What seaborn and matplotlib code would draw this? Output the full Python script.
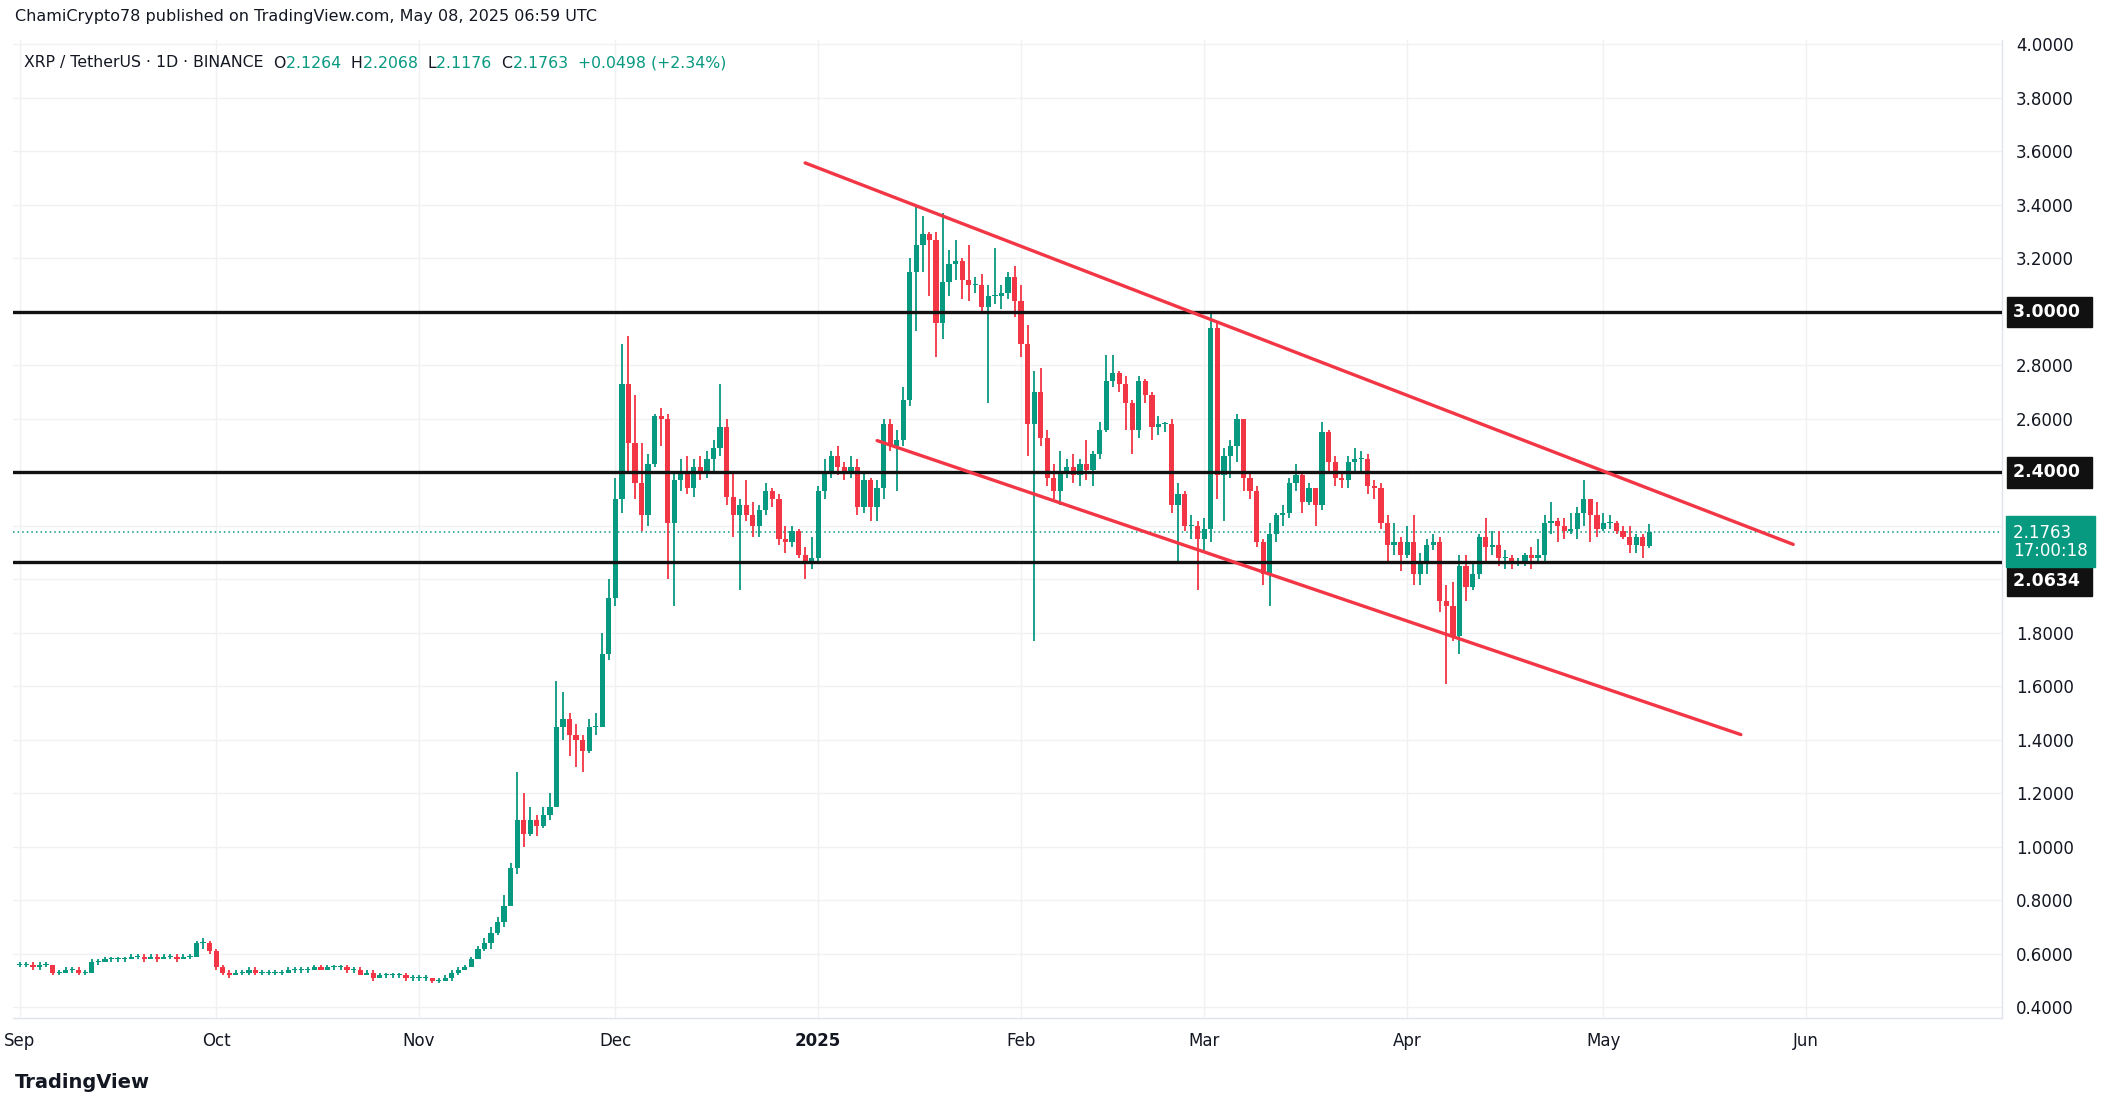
import numpy as np
import pandas as pd
import matplotlib
matplotlib.use("Agg")
import matplotlib.pyplot as plt
import seaborn as sns

# ---------------- data (daily, 2024-09-01 .. 2025-05-08) ----------------
first_open = 0.56
closes_sep = [0.56,0.56,0.55,0.56,0.56,0.53,0.53,0.54,0.54,0.53,0.53,0.57,0.57,0.58,0.58,0.58,0.58,0.59,0.59,0.58,0.59,0.58,0.59,0.59,0.58,0.59,0.59,0.64,0.64,0.61]
highs_sep = [0.57,0.57,0.57,0.57,0.57,0.56,0.54,0.55,0.55,0.55,0.54,0.58,0.58,0.59,0.59,0.59,0.59,0.60,0.60,0.60,0.60,0.60,0.60,0.60,0.60,0.60,0.60,0.65,0.66,0.65]
lows_sep = [0.55,0.55,0.54,0.54,0.55,0.52,0.52,0.53,0.53,0.52,0.52,0.53,0.56,0.57,0.57,0.57,0.57,0.58,0.58,0.57,0.58,0.57,0.58,0.58,0.57,0.58,0.58,0.59,0.62,0.60]
closes_oct = [0.55,0.53,0.52,0.53,0.53,0.54,0.53,0.53,0.53,0.53,0.53,0.54,0.54,0.54,0.54,0.55,0.54,0.55,0.55,0.55,0.54,0.54,0.52,0.53,0.51,0.52,0.52,0.52,0.52,0.51,0.51]
highs_oct = [0.62,0.56,0.54,0.54,0.54,0.55,0.55,0.54,0.54,0.54,0.54,0.55,0.55,0.55,0.55,0.56,0.56,0.56,0.56,0.56,0.56,0.55,0.55,0.54,0.54,0.53,0.53,0.53,0.53,0.53,0.52]
lows_oct = [0.54,0.52,0.51,0.52,0.52,0.52,0.52,0.52,0.52,0.52,0.52,0.53,0.53,0.53,0.53,0.54,0.54,0.54,0.54,0.54,0.53,0.53,0.52,0.52,0.50,0.51,0.51,0.51,0.51,0.50,0.50]
closes_nov = [0.51,0.51,0.50,0.50,0.51,0.53,0.54,0.55,0.58,0.62,0.64,0.68,0.72,0.78,0.92,1.10,1.05,1.10,1.08,1.12,1.15,1.45,1.48,1.42,1.40,1.36,1.45,1.45,1.72,1.93]
highs_nov = [0.52,0.52,0.51,0.51,0.52,0.54,0.55,0.56,0.59,0.63,0.66,0.70,0.74,0.82,0.94,1.28,1.20,1.15,1.12,1.15,1.20,1.62,1.58,1.50,1.46,1.42,1.48,1.50,1.80,2.00]
lows_nov = [0.50,0.50,0.49,0.49,0.50,0.50,0.52,0.54,0.55,0.58,0.61,0.62,0.67,0.70,0.78,0.90,1.00,1.04,1.04,1.07,1.10,1.15,1.40,1.34,1.30,1.28,1.35,1.42,1.45,1.70]
closes_dec = [2.30,2.73,2.51,2.36,2.24,2.43,2.61,2.60,2.21,2.37,2.40,2.34,2.42,2.40,2.45,2.49,2.57,2.31,2.24,2.28,2.24,2.20,2.26,2.33,2.30,2.15,2.14,2.18,2.09,2.06,2.08]
highs_dec = [2.38,2.88,2.91,2.69,2.51,2.47,2.62,2.64,2.62,2.40,2.45,2.46,2.45,2.46,2.48,2.52,2.73,2.60,2.40,2.30,2.37,2.29,2.28,2.36,2.34,2.32,2.20,2.20,2.19,2.12,2.16]
lows_dec = [1.90,2.25,2.40,2.30,2.18,2.20,2.42,2.50,2.00,1.90,2.33,2.32,2.31,2.37,2.38,2.40,2.46,2.28,2.16,1.96,2.22,2.16,2.16,2.24,2.27,2.13,2.10,2.12,2.08,2.00,2.04]
closes_jan = [2.33,2.40,2.46,2.42,2.40,2.42,2.27,2.37,2.27,2.34,2.58,2.50,2.52,2.67,3.15,3.25,3.29,3.27,2.96,3.11,3.18,3.19,3.12,3.10,3.10,3.02,3.06,3.06,3.07,3.13,3.04]
highs_jan = [2.35,2.45,2.48,2.50,2.44,2.46,2.45,2.40,2.38,2.37,2.60,2.60,2.56,2.72,3.20,3.40,3.36,3.30,3.30,3.37,3.23,3.27,3.20,3.25,3.13,3.14,3.10,3.24,3.10,3.15,3.17]
lows_jan = [2.06,2.30,2.38,2.39,2.37,2.38,2.24,2.25,2.22,2.22,2.30,2.48,2.33,2.50,2.65,2.93,3.15,3.06,2.83,2.90,3.06,3.12,3.05,3.04,3.07,3.00,2.66,3.03,3.01,3.05,2.98]
closes_feb = [2.88,2.58,2.70,2.53,2.38,2.33,2.40,2.42,2.39,2.43,2.41,2.47,2.56,2.74,2.77,2.73,2.66,2.56,2.74,2.69,2.57,2.58,2.58,2.28,2.32,2.20,2.20,2.15]
highs_feb = [3.10,2.95,2.78,2.79,2.56,2.43,2.48,2.45,2.47,2.45,2.52,2.48,2.59,2.84,2.84,2.78,2.76,2.67,2.76,2.75,2.70,2.61,2.59,2.60,2.36,2.33,2.24,2.22]
lows_feb = [2.83,2.46,1.77,2.50,2.35,2.30,2.28,2.38,2.36,2.35,2.37,2.35,2.45,2.55,2.72,2.70,2.56,2.47,2.53,2.66,2.52,2.54,2.55,2.25,2.07,2.18,2.15,1.96]
closes_mar = [2.19,2.94,2.39,2.46,2.50,2.60,2.38,2.33,2.14,2.02,2.17,2.24,2.25,2.36,2.39,2.29,2.34,2.28,2.55,2.44,2.38,2.37,2.44,2.45,2.45,2.35,2.34,2.21,2.13,2.14,2.09]
highs_mar = [2.23,3.00,2.96,2.49,2.52,2.62,2.60,2.40,2.35,2.15,2.21,2.25,2.28,2.38,2.43,2.40,2.36,2.34,2.59,2.56,2.46,2.40,2.46,2.49,2.48,2.47,2.37,2.36,2.24,2.21,2.16]
lows_mar = [2.10,2.14,2.30,2.22,2.38,2.44,2.33,2.30,2.12,1.98,1.90,2.14,2.20,2.23,2.33,2.25,2.28,2.20,2.26,2.40,2.35,2.34,2.34,2.40,2.40,2.32,2.30,2.19,2.07,2.09,2.03]
closes_apr = [2.14,2.02,2.06,2.13,2.14,1.92,1.90,1.79,2.05,1.97,2.02,2.16,2.12,2.13,2.08,2.08,2.06,2.06,2.09,2.08,2.09,2.21,2.22,2.20,2.18,2.19,2.25,2.30,2.24,2.19]
highs_apr = [2.20,2.24,2.10,2.15,2.17,2.16,1.98,1.99,2.09,2.09,2.06,2.17,2.23,2.18,2.18,2.11,2.09,2.08,2.10,2.12,2.15,2.24,2.29,2.23,2.23,2.25,2.27,2.37,2.28,2.29]
lows_apr = [2.08,1.98,1.98,2.02,2.11,1.88,1.61,1.77,1.72,1.92,1.96,2.00,2.07,2.09,2.05,2.04,2.04,2.05,2.05,2.04,2.06,2.07,2.17,2.14,2.15,2.17,2.15,2.20,2.14,2.16]
closes_may = [2.21,2.21,2.18,2.16,2.13,2.16,2.1264,2.1763]
highs_may = [2.25,2.24,2.22,2.20,2.20,2.17,2.17,2.2068]
lows_may = [2.18,2.19,2.17,2.15,2.10,2.10,2.08,2.1176]

month_ticks = [0, 30, 61, 91, 122, 153, 181, 212, 242, 273]
month_labels = ["Sep", "Oct", "Nov", "Dec", "2025", "Feb", "Mar", "Apr", "May", "Jun"]
price_ticks = [0.4,0.6,0.8,1.0,1.2,1.4,1.6,1.8,2.0,2.2,2.4,2.6,2.8,3.0,3.2,3.4,3.6,3.8,4.0]
hidden_ticks = [2.0, 2.2, 2.4, 3.0]
levels = [3.0, 2.4, 2.0634]
last_price = 2.1763
upper_trend_x = [120, 271]
upper_trend_y = [3.557, 2.131]
lower_trend_x = [131, 263]
lower_trend_y = [2.519, 1.42]

closes = (closes_sep + closes_oct + closes_nov + closes_dec + closes_jan + closes_feb
          + closes_mar + closes_apr + closes_may)
highs = (highs_sep + highs_oct + highs_nov + highs_dec + highs_jan + highs_feb
         + highs_mar + highs_apr + highs_may)
lows = (lows_sep + lows_oct + lows_nov + lows_dec + lows_jan + lows_feb
        + lows_mar + lows_apr + lows_may)
n = min(len(closes), len(highs), len(lows))
df = pd.DataFrame({"close": closes[:n], "high": highs[:n], "low": lows[:n]})
df["open"] = [first_open] + list(df["close"][:-1])
df["day"] = np.arange(n)
df["high"] = df[["high", "open", "close"]].max(axis=1)
df["low"] = df[["low", "open", "close"]].min(axis=1)

GREEN = "#089981"
RED = "#F23645"

sns.set_theme(style="white")
fig = plt.figure(figsize=(21.14, 11.07), dpi=100)
ax = fig.add_axes([0.006, 0.080, 0.941, 0.884])
ax.set_facecolor("white")

up = df["close"] >= df["open"]
cols = np.where(up, GREEN, RED)
ax.vlines(df["day"], df["low"], df["high"], colors=cols, linewidth=1.3, zorder=3)
body_lo = np.minimum(df["open"], df["close"])
body_h = np.maximum(np.abs(df["close"] - df["open"]), 0.004)
ax.bar(df["day"], body_h, bottom=body_lo, width=0.8, color=cols, linewidth=0, zorder=4)

for lv in levels:
    ax.axhline(lv, color="#111111", linewidth=2.4, zorder=5)
ax.axhline(last_price, color=GREEN, linewidth=1.1, linestyle=(0, (1, 2)), zorder=2)
sns.lineplot(x=upper_trend_x, y=upper_trend_y, ax=ax, color=RED, linewidth=2.4, zorder=6)
sns.lineplot(x=lower_trend_x, y=lower_trend_y, ax=ax, color=RED, linewidth=2.4, zorder=6)

ax.set_xlim(-1.1, 302.9)
ax.set_ylim(0.359, 4.017)
ax.set_xticks(month_ticks)
ax.set_xticklabels(month_labels)
for t, lab in zip(ax.get_xticklabels(), month_labels):
    if lab == "2025":
        t.set_fontweight("bold")
ax.set_yticks(price_ticks)
ax.set_yticklabels(["" if v in hidden_ticks else f"{v:.4f}" for v in price_ticks])
ax.yaxis.tick_right()
ax.tick_params(axis="both", length=0, labelsize=12, colors="#131722", pad=10)
ax.grid(True, color="#F0F1F3", linewidth=1.0)
for s in ax.spines.values():
    s.set_color("#E0E3EB")
    s.set_linewidth(1.0)
ax.spines["left"].set_visible(False)
ax.spines["top"].set_visible(False)

def tag(y, text, fc, fs=12.5, tc="white"):
    ax.annotate(text, xy=(1.0, y), xycoords=("axes fraction", "data"),
                xytext=(8, 0), textcoords="offset points", ha="left", va="center",
                fontsize=fs, fontweight="bold", color=tc, zorder=10, annotation_clip=False,
                bbox=dict(boxstyle="square,pad=0.35", fc=fc, ec=fc))
tag(3.0, "3.0000 ", "#111111")
tag(2.4, "2.4000 ", "#111111")
# the 2.0634 tag is pushed just below the live-price tag, as in TradingView
ax.annotate("2.0634 ", xy=(1.0, 2.0634), xycoords=("axes fraction", "data"),
            xytext=(8, -13), textcoords="offset points", ha="left", va="center",
            fontsize=12.5, fontweight="bold", color="white", zorder=10, annotation_clip=False,
            bbox=dict(boxstyle="square,pad=0.35", fc="#111111", ec="#111111"))
ax.annotate("2.1763  \n17:00:18", xy=(1.0, last_price), xycoords=("axes fraction", "data"),
            xytext=(8, -7), textcoords="offset points", ha="left", va="center",
            fontsize=12, color="white", zorder=11, annotation_clip=False, linespacing=1.0,
            bbox=dict(boxstyle="square,pad=0.45", fc=GREEN, ec=GREEN))

fig.text(0.007, 0.985, "ChamiCrypto78 published on TradingView.com, May 08, 2025 06:59 UTC",
         fontsize=11.5, color="#131722", va="center", ha="left")
parts = [("XRP / TetherUS · 1D · BINANCE  ", "#131722"), ("O", "#131722"), ("2.1264  ", GREEN),
         ("H", "#131722"), ("2.2068  ", GREEN), ("L", "#131722"), ("2.1176  ", GREEN),
         ("C", "#131722"), ("2.1763  ", GREEN), ("+0.0498 (+2.34%)", GREEN)]
renderer = fig.canvas.get_renderer()
xpix = 24
for txt, c in parts:
    t = fig.text(xpix / 2114, 1 - 63 / 1107, txt, fontsize=11.3, color=c, va="center", ha="left")
    bb = t.get_window_extent(renderer=renderer)
    xpix += bb.width
fig.text(0.007, 1 - 1082 / 1107, "TradingView", fontsize=14, fontweight="bold",
         color="#131722", va="center", ha="left")

fig.savefig("out.png", dpi=100, facecolor="white")
